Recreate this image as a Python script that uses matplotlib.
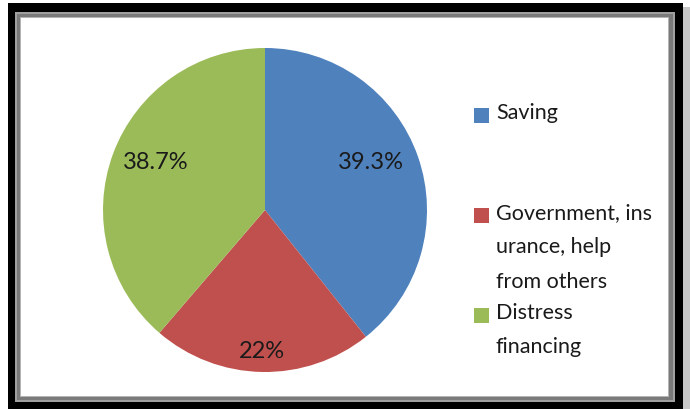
import matplotlib.pyplot as plt
from matplotlib.patches import Rectangle
import numpy as np

# shares of each source
labels = ["Saving", "Government, ins\nurance, help\nfrom others", "Distress\nfinancing"]
values = [39.3, 22, 38.7]
colors = ["#4F81BD", "#C0504D", "#9BBB59"]
# where the percentage sits in each slice (radius, angle nudge in degrees)
label_dist = [0.717, 0.876, 0.737]
label_turn = [4.8, 0, -3.2]

W, H = 690, 409
fig = plt.figure(figsize=(W / 100, H / 100), dpi=100)
plt.rcParams['font.family'] = ['Lato', 'DejaVu Sans']


def px_rect(x0, y0, x1, y1, **kw):
    # rectangle given in pixels, origin top-left
    fig.patches.append(Rectangle((x0 / W, 1 - y1 / H), (x1 - x0) / W, (y1 - y0) / H,
                                 transform=fig.transFigure, **kw))


# frame: shadow, black border, grey inner border, white area
px_rect(12, 7, 690, 409, facecolor="#c8c8c8", edgecolor="none")
px_rect(8, 3, 683, 409, facecolor="black", edgecolor="none")
px_rect(15, 12, 675, 402, facecolor="#a0a0a0", edgecolor="none")
px_rect(17, 14, 673, 400, facecolor="#7a7a7a", edgecolor="none")
px_rect(20, 17, 669, 397, facecolor="#b4b4b4", edgecolor="none")
px_rect(21, 18, 668, 396, facecolor="white", edgecolor="none")

# pie
cx, cy, r = 265, 210, 162
ax = fig.add_axes([(cx - r) / W, 1 - (cy + r) / H, 2 * r / W, 2 * r / H])
ax.set_zorder(5)
ax.patch.set_visible(False)
wedges, _ = ax.pie(values, colors=colors, startangle=90, counterclock=False,
                   wedgeprops=dict(linewidth=0))
ax.set_xlim(-1, 1)
ax.set_ylim(-1, 1)
ax.set_aspect("equal")
ax.axis("off")

for w, v, d, t in zip(wedges, values, label_dist, label_turn):
    ang = np.deg2rad((w.theta1 + w.theta2) / 2 + t)
    ax.text(d * np.cos(ang), d * np.sin(ang), f"{v:g}%", ha="center", va="center",
            fontsize=17, color="#1a1a1a")

# legend on the right
leg_y = [115, 215, 315]
for lab, c, y in zip(labels, colors, leg_y):
    px_rect(474, y - 7.5, 489, y + 7.5, facecolor=c, edgecolor="none")
    fig.text(496 / W, 1 - (y - 12) / H, lab, ha="left", va="top", fontsize=15.5,
             color="#1a1a1a", linespacing=1.9)

fig.savefig("out.png", dpi=100)
